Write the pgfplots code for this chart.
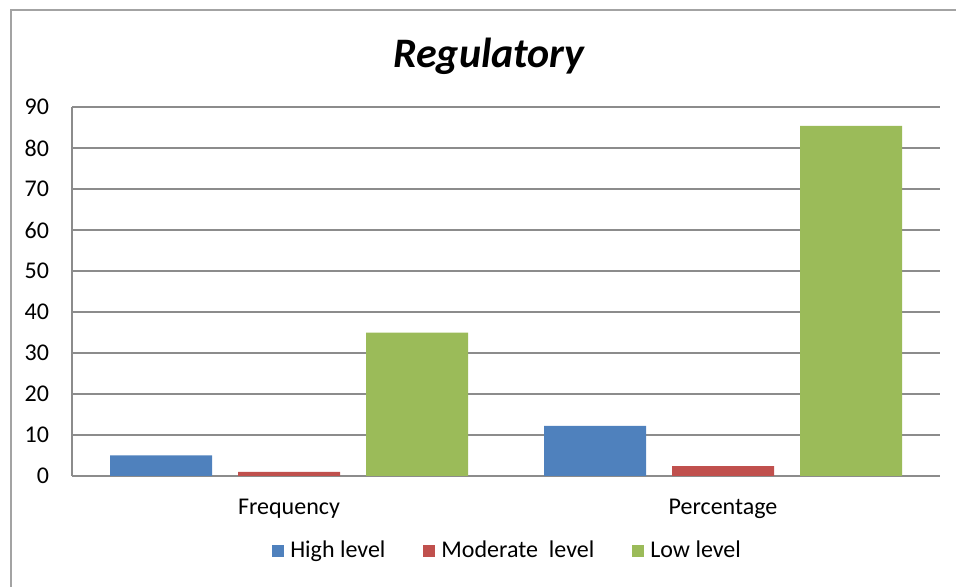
\documentclass[border=0pt]{standalone}
\usepackage{pgfplots}
\pgfplotsset{compat=1.18}
\usepackage{fontspec}
\setmainfont{Carlito}
\definecolor{cblue}{HTML}{4F81BD}
\definecolor{cred}{HTML}{C0504D}
\definecolor{cgreen}{HTML}{9BBB59}
\definecolor{cgrid}{HTML}{8C8C8C}
\begin{document}
\begin{tikzpicture}
\useasboundingbox (0,0) rectangle (478pt,293.5pt);
% outer frame (left and top edges visible)
\draw[color=cgrid!80, line width=0.6pt] (5.5pt,0) -- (5.5pt,288.5pt) -- (478pt,288.5pt);
\node[font=\fontsize{21}{25}\selectfont\bfseries\itshape] at (244.5pt,265.5pt) {Regulatory};
\begin{axis}[
  at={(36pt,55.5pt)}, anchor=south west,
  width=434pt, height=184.5pt, scale only axis,
  xmin=-0.5, xmax=1.5, ymin=0, ymax=90,
  ytick={0,10,...,90},
  xtick={0,1}, xticklabels={Frequency,Percentage},
  major tick length=0pt,
  ymajorgrids, grid style={cgrid, line width=0.6pt},
  axis x line*=bottom, axis y line*=left,
  axis line style={cgrid, line width=0.6pt},
  x axis line style={-}, y axis line style={-},
  tick label style={font=\fontsize{12}{14}\selectfont},
  yticklabel style={xshift=-8pt},
  xticklabel style={yshift=-8pt},
  /pgf/number format/assume math mode=true,
  ybar, bar width=51pt,
  legend style={at={(0.503,-0.203)}, anchor=center, legend columns=3, draw=none,
    font=\fontsize{12}{14}\selectfont,
    /tikz/every even column/.append style={column sep=17pt},
    /tikz/every odd column/.append style={column sep=1pt}},
  legend image code/.code={\fill[#1] (0pt,-3pt) rectangle (6pt,3pt);},
]
\addplot[fill=cblue, draw=none, bar shift=-64pt] coordinates {(0,5) (1,12.2)};
\addplot[fill=cred, draw=none, bar shift=0pt] coordinates {(0,1) (1,2.4)};
\addplot[fill=cgreen, draw=none, bar shift=64pt] coordinates {(0,35) (1,85.4)};
\legend{High level, Moderate\ \ level, Low level}
\end{axis}
\end{tikzpicture}
\end{document}
